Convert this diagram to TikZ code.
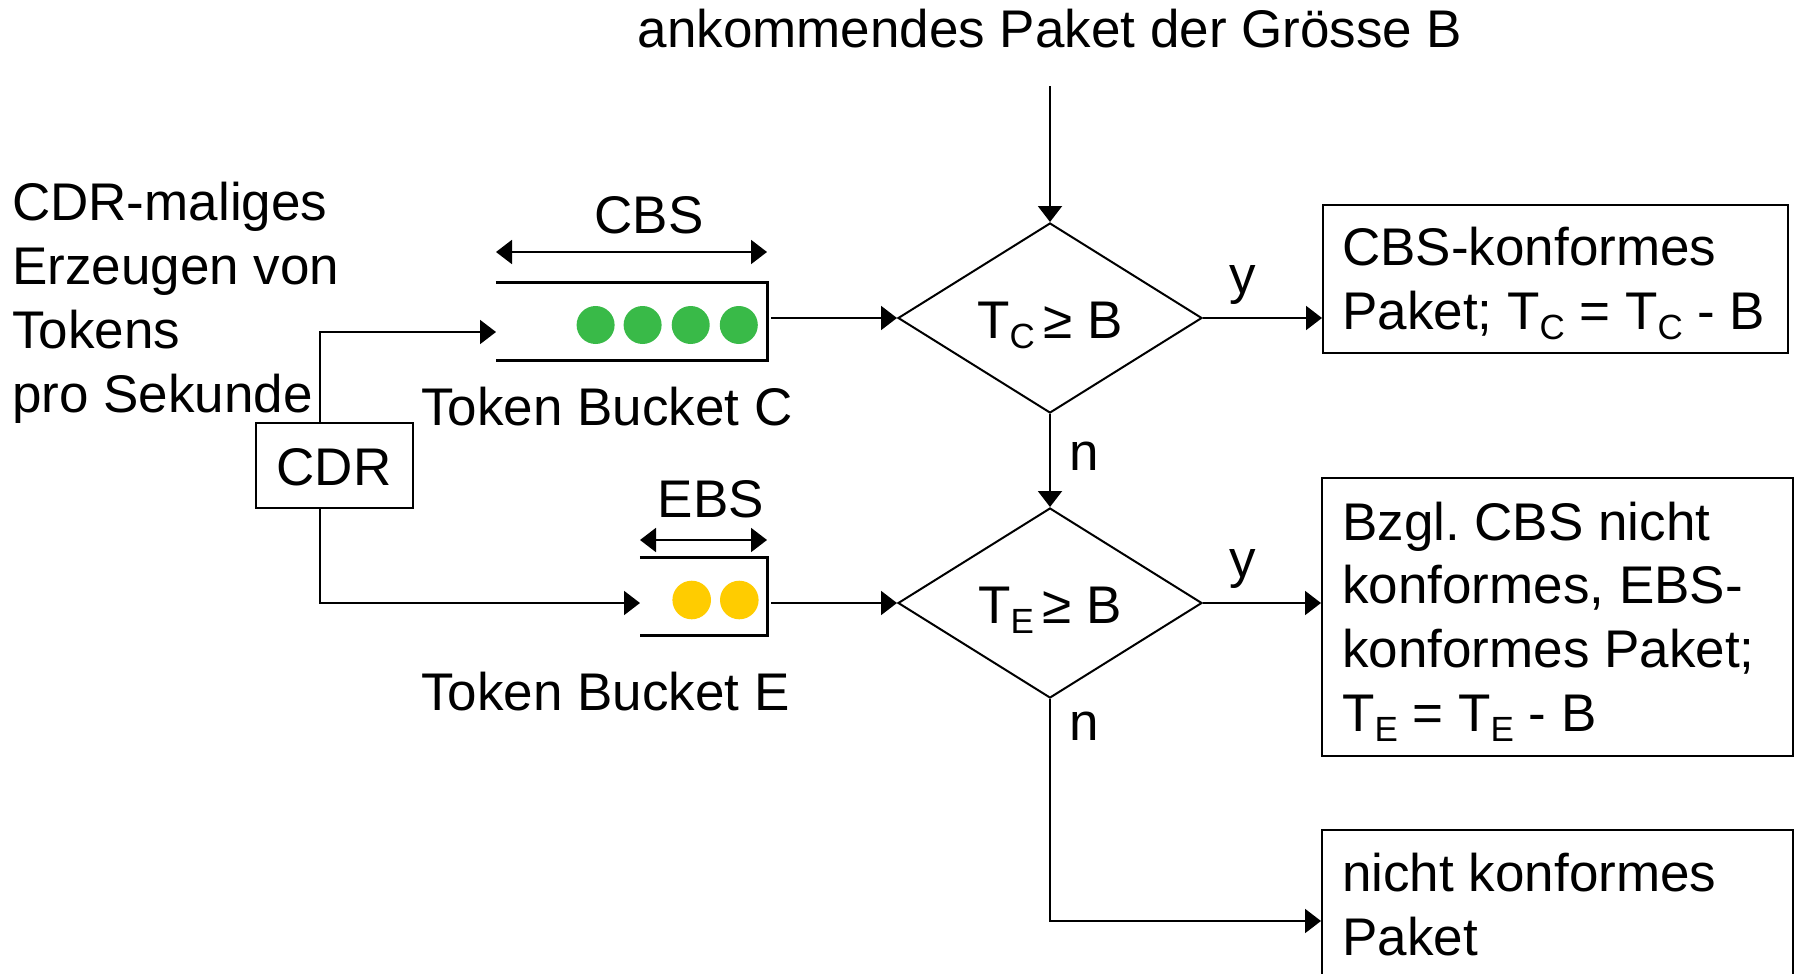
\documentclass[tikz,border=0pt]{standalone}
\usepackage{fontspec}
\setmainfont{Liberation Sans}
\usetikzlibrary{arrows.meta,shapes.geometric,calc}
\definecolor{tokgreen}{RGB}{57,186,72}
\definecolor{tokyellow}{RGB}{255,204,0}
\newcommand{\lowsub}[1]{\raisebox{-0.2em}{\fontsize{35}{35}\selectfont #1}}
\frenchspacing
\tikzset{
  conn/.style={line width=2pt},
  arr/.style={line width=2pt,-{Triangle[length=16pt,width=24pt]}},
  dimarr/.style={line width=2pt,{Triangle[length=16pt,width=24pt]}-{Triangle[length=16pt,width=24pt]}},
  txt/.style={inner sep=0pt,font=\fontsize{53}{64}\selectfont},
  decision/.style={draw,line width=2pt,shape=diamond,minimum width=304pt,minimum height=190pt,inner sep=0pt},
  outbox/.style={draw,line width=2pt,inner sep=0pt,anchor=north west},
  bucketside/.style={line width=3pt},
  tokC/.style={fill=tokgreen},
  tokE/.style={fill=tokyellow}
}
\begin{document}
\begin{tikzpicture}[x=1pt,y=-1pt]
\useasboundingbox (0,0) rectangle (1796,974);
\clip (0,0) rectangle (1796,974);
\fill[white] (0,0) rectangle (1796,974);

% title and incoming arrow
\node[txt,anchor=base] (title) at (1050,48) {ankommendes Paket der Grösse B};
\coordinate (top) at (1050,86);

% decisions
\node[decision] (d1) at (1050,318) {};
\node[decision] (d2) at (1050,603) {};
\node[txt,anchor=base] (t1) at (1050,338) {T\lowsub{C}\,≥ B};
\node[txt,anchor=base] (t2) at (1050,623) {T\lowsub{E}\,≥ B};

% result boxes
\node[outbox,minimum width=465pt,minimum height=148pt] (b1) at (1322,204) {};
\node[outbox,minimum width=471pt,minimum height=278pt] (b2) at (1321,477) {};
\node[outbox,minimum width=471pt,minimum height=200pt] (b3) at (1321,829) {};

\node[txt,anchor=base west] (b1a) at (1342,265) {CBS-konformes};
\node[txt,anchor=base west] (b1b) at (1342,329) {Paket; T\lowsub{C} = T\lowsub{C} - B};

\node[txt,anchor=base west] (b2a) at (1342,540) {Bzgl. CBS nicht};
\node[txt,anchor=base west] (b2b) at (1342,603) {konformes, EBS-};
\node[txt,anchor=base west] (b2c) at (1342,667) {konformes Paket;};
\node[txt,anchor=base west] (b2d) at (1342,731) {T\lowsub{E} = T\lowsub{E} - B};

\node[txt,anchor=base west] (b3a) at (1342,891) {nicht konformes};
\node[txt,anchor=base west] (b3b) at (1342,955) {Paket};

% left text
\node[txt,anchor=base west] (l1) at (12,220) {CDR-maliges};
\node[txt,anchor=base west] (l2) at (12,284) {Erzeugen von};
\node[txt,anchor=base west] (l3) at (12,348) {Tokens};
\node[txt,anchor=base west] (l4) at (12,412) {pro Sekunde};

% CDR box
\node[draw,line width=2pt,inner sep=0pt,minimum width=157pt,minimum height=85pt] (cdr) at (334,465) {};
\node[txt,anchor=base] (cdrt) at (334,485) {CDR};

% buckets
\node[inner sep=0pt,minimum width=271pt,minimum height=78pt] (bc) at (631.5,321.5) {};
\node[inner sep=0pt,minimum width=127pt,minimum height=77pt] (be) at (703.5,596.5) {};
\draw[bucketside] (bc.north west) -- (bc.north east) -- (bc.south east) -- (bc.south west);
\draw[bucketside] (be.north west) -- (be.north east) -- (be.south east) -- (be.south west);

\foreach \x in {595.6,642.6,690.7,738.8} \fill[tokC] (\x,325) circle (19);
\foreach \x in {691.7,739.3} \fill[tokE] (\x,600) circle (19.3);

% dimension arrows
\coordinate (cbsL) at (496,252);
\coordinate (cbsR) at (767,252);
\coordinate (ebsL) at (640,540);
\coordinate (ebsR) at (767,540);
\draw[dimarr] (cbsL) -- (cbsR);
\draw[dimarr] (ebsL) -- (ebsR);
\node[txt,anchor=base] (cbs) at (649,233) {CBS};
\node[txt,anchor=base] (ebs) at (711,517) {EBS};

\node[txt,anchor=base west] (tbc) at (421,425) {Token Bucket C};
\node[txt,anchor=base west] (tbe) at (421,710) {Token Bucket E};

% connectors
\coordinate (cin) at (496,332);
\coordinate (ein) at (640,603);
\coordinate (b3in) at (1321,921);
\draw[arr] (top) -- (d1.north);
\draw[arr] ([xshift=-14pt]cdr.north) |- (cin);
\draw[arr] ([xshift=-14pt]cdr.south) |- (ein);
\draw[arr] ([xshift=4pt]bc.east |- d1.west) -- (d1.west);
\draw[arr] ([xshift=4pt]be.east |- d2.west) -- (d2.west);
\draw[arr] (d1.east) -- (d1.east -| b1.west);
\draw[arr] (d2.east) -- (d2.east -| b2.west);
\draw[arr] (d1.south) -- (d2.north);
\draw[arr] (d2.south) |- (b3in);

% branch labels
\node[txt,anchor=base] (y1) at (1243,293) {y};
\node[txt,anchor=base] (y2) at (1243,577) {y};
\node[txt,anchor=base] (n1) at (1084,470) {n};
\node[txt,anchor=base] (n2) at (1084,740) {n};
\end{tikzpicture}
\end{document}
